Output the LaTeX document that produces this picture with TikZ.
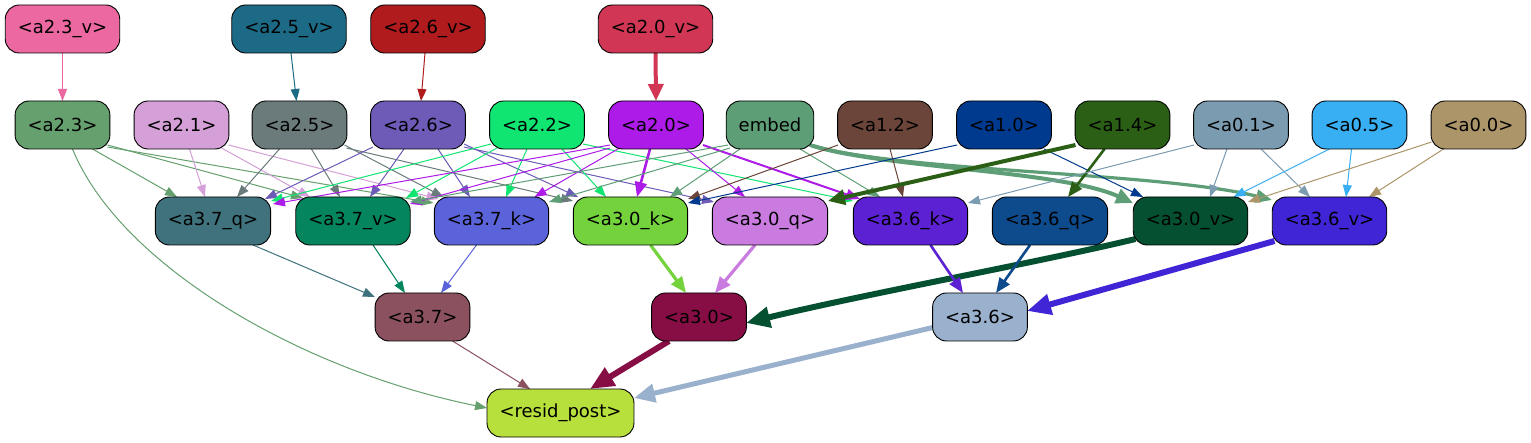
\documentclass[tikz,border=0pt]{standalone}
\usepackage{fontspec}
\setmainfont{DejaVu Sans}
\usetikzlibrary{arrows.meta}
\pgfdeclarelayer{bg}
\pgfsetlayers{bg,main}
\definecolor{c23v}{HTML}{EB68A0}
\definecolor{c25v}{HTML}{1D6A86}
\definecolor{c26v}{HTML}{B01B1D}
\definecolor{c20v}{HTML}{D13754}
\definecolor{c23}{HTML}{65A06E}
\definecolor{c21}{HTML}{D59FD8}
\definecolor{c25}{HTML}{6B7B7B}
\definecolor{c26}{HTML}{6E5BB8}
\definecolor{c22}{HTML}{0FE570}
\definecolor{c20}{HTML}{AD1BE9}
\definecolor{cemb}{HTML}{5E9E76}
\definecolor{c12}{HTML}{6B4539}
\definecolor{c10}{HTML}{003A8E}
\definecolor{c14}{HTML}{2B5F15}
\definecolor{c01}{HTML}{7B9BB1}
\definecolor{c05}{HTML}{39AFF3}
\definecolor{c00}{HTML}{AC9569}
\definecolor{cq37}{HTML}{3F727C}
\definecolor{cv37}{HTML}{05855D}
\definecolor{ck37}{HTML}{5A63D9}
\definecolor{ck30}{HTML}{74D33D}
\definecolor{cq30}{HTML}{C97BE0}
\definecolor{ck36}{HTML}{5B21D3}
\definecolor{cq36}{HTML}{0E4B8D}
\definecolor{cv30}{HTML}{045031}
\definecolor{cv36}{HTML}{3F25D6}
\definecolor{c37}{HTML}{8C515F}
\definecolor{c30}{HTML}{870E44}
\definecolor{c36}{HTML}{99B1CD}
\definecolor{cres}{HTML}{B8E03D}
\begin{document}
\begin{tikzpicture}[x=1pt,y=-1pt,
  box/.style={draw=black, line width=0.9pt, rounded corners=14pt, minimum height=48pt,
    inner xsep=12.5pt, inner ysep=0pt, font=\fontsize{18}{21}\selectfont, text=black},
  thinE/.style={line width=1pt, -{Triangle[length=12pt,width=9pt]}},
  twoE/.style={line width=2pt, -{Triangle[length=14pt,width=11pt]}},
  midE/.style={line width=2.6pt, -{Triangle[length=15pt,width=12pt]}},
  thrE/.style={line width=3.2pt, -{Triangle[length=16pt,width=13pt]}},
  thickE/.style={line width=4pt, -{Triangle[length=17pt,width=15pt]}},
  fiveE/.style={line width=5pt, -{Triangle[length=21pt,width=18pt]}},
  heavyE/.style={line width=6pt, -{Triangle[length=24pt,width=20pt]}}]
\useasboundingbox (0,0) rectangle (1531,443);
% row 0
\node[box, fill=c23v] (n23v) at (62.5,29) {<a2.3\_v>};
\node[box, fill=c25v] (n25v) at (289,29) {<a2.5\_v>};
\node[box, fill=c26v] (n26v) at (428,29) {<a2.6\_v>};
\node[box, fill=c20v] (n20v) at (655.5,29) {<a2.0\_v>};
% row 1
\node[box, fill=c23] (n23) at (62.5,125) {<a2.3>};
\node[box, fill=c21] (n21) at (181.5,125) {<a2.1>};
\node[box, fill=c25] (n25) at (299.5,125) {<a2.5>};
\node[box, fill=c26] (n26) at (418,125) {<a2.6>};
\node[box, fill=c22] (n22) at (537,125) {<a2.2>};
\node[box, fill=c20] (n20) at (656,125) {<a2.0>};
\node[box, fill=cemb] (emb) at (770,125) {embed};
\node[box, fill=c12] (n12) at (885,125) {<a1.2>};
\node[box, fill=c10] (n10) at (1004,125) {<a1.0>};
\node[box, fill=c14] (n14) at (1122.5,125) {<a1.4>};
\node[box, fill=c01] (n01) at (1241,125) {<a0.1>};
\node[box, fill=c05] (n05) at (1359.5,125) {<a0.5>};
\node[box, fill=c00] (n00) at (1478.5,125) {<a0.0>};
% row 2
\node[box, fill=cq37] (q37) at (213,221) {<a3.7\_q>};
\node[box, fill=cv37] (v37) at (353,221) {<a3.7\_v>};
\node[box, fill=ck37] (k37) at (491.5,221) {<a3.7\_k>};
\node[box, fill=ck30] (k30) at (630.5,221) {<a3.0\_k>};
\node[box, fill=cq30] (q30) at (770,221) {<a3.0\_q>};
\node[box, fill=ck36] (k36) at (910.5,221) {<a3.6\_k>};
\node[box, fill=cq36] (q36) at (1050,221) {<a3.6\_q>};
\node[box, fill=cv30] (v30) at (1190.5,221) {<a3.0\_v>};
\node[box, fill=cv36] (v36) at (1329.5,221) {<a3.6\_v>};
% row 3
\node[box, fill=c37] (n37) at (422.5,317) {<a3.7>};
\node[box, fill=c30] (n30) at (699,317) {<a3.0>};
\node[box, fill=c36] (n36) at (980,317) {<a3.6>};
% row 4
\node[box, fill=cres] (res) at (560.5,413) {<resid\_post>};

\begin{pgfonlayer}{bg}
\fill[white] (0,0) rectangle (1531,443);
% top
\draw[thinE, c23v] ([shift={(0,24)}]n23v.center) -- ([shift={(0,-24)}]n23.center);
\draw[thinE, c25v] ([shift={(2,24)}]n25v.center) -- ([shift={(-3,-24)}]n25.center);
\draw[thinE, c26v] ([shift={(-3,24)}]n26v.center) -- ([shift={(3,-24)}]n26.center);
\draw[thickE, c20v] ([shift={(0,24)}]n20v.center) -- ([shift={(0,-24)}]n20.center);
% a2.3
\draw[thinE, c23] ([shift={(30,24)}]n23.center) -- ([shift={(-36,-24)}]q37.center);
\draw[thinE, c23] ([shift={(45,20)}]n23.center) -- ([shift={(-50,-23)}]v37.center);
\draw[thinE, c23] ([shift={(45,22)}]n23.center) -- ([shift={(-58,-18)}]k37.center);
\draw[thinE, c23] ([shift={(10,24)}]n23.center) .. controls (120,265) and (300,370) .. ([shift={(-73.5,-5)}]res.center);
% a2.1
\draw[thinE, c21] ([shift={(8,24)}]n21.center) -- ([shift={(-8,-24)}]q37.center);
\draw[thinE, c21] ([shift={(40,23)}]n21.center) -- ([shift={(-43,-24)}]v37.center);
\draw[thinE, c21] ([shift={(47,20)}]n21.center) -- ([shift={(-53,-22)}]k37.center);
% a2.5
\draw[thinE, c25] ([shift={(-20,24)}]n25.center) -- ([shift={(24,-24)}]q37.center);
\draw[thinE, c25] ([shift={(12,24)}]n25.center) -- ([shift={(-13,-24)}]v37.center);
\draw[thinE, c25] ([shift={(45,20)}]n25.center) -- ([shift={(-48,-24)}]k37.center);
\draw[thinE, c25] ([shift={(47,23)}]n25.center) -- ([shift={(-57.5,-20)}]k30.center);
% a2.6
\draw[thinE, c26] ([shift={(-45,22)}]n26.center) -- ([shift={(52,-22)}]q37.center);
\draw[thinE, c26] ([shift={(-14,24)}]n26.center) -- ([shift={(17,-24)}]v37.center);
\draw[thinE, c26] ([shift={(20,24)}]n26.center) -- ([shift={(-21.5,-24)}]k37.center);
\draw[thinE, c26] ([shift={(46,19)}]n26.center) -- ([shift={(-52.5,-24)}]k30.center);
\draw[thinE, c26] ([shift={(46,22)}]n26.center) -- ([shift={(-56,-19)}]q30.center);
% a2.2
\draw[thinE, c22] ([shift={(-46,19)}]n22.center) -- ([shift={(58,-20)}]q37.center);
\draw[thinE, c22] ([shift={(-40,23)}]n22.center) -- ([shift={(53,-23)}]v37.center);
\draw[thinE, c22] ([shift={(-10,24)}]n22.center) -- ([shift={(14.5,-24)}]k37.center);
\draw[thinE, c22] ([shift={(25,24)}]n22.center) -- ([shift={(-24.5,-24)}]k30.center);
\draw[thinE, c22] ([shift={(46,19)}]n22.center) -- ([shift={(-57.5,-20)}]k36.center);
% a2.0
\draw[thinE, c20] ([shift={(-46,20)}]n20.center) -- ([shift={(60,-17)}]q37.center);
\draw[thinE, c20] ([shift={(-46,23)}]n20.center) -- ([shift={(57,-17)}]v37.center);
\draw[thinE, c20] ([shift={(-38,24)}]n20.center) -- ([shift={(43,-24)}]k37.center);
\draw[midE, c20] ([shift={(-6,24)}]n20.center) -- ([shift={(6.5,-24)}]k30.center);
\draw[thinE, c20] ([shift={(30,24)}]n20.center) -- ([shift={(-25,-24)}]q30.center);
\draw[twoE, c20] ([shift={(47,20)}]n20.center) -- ([shift={(-50.5,-22)}]k36.center);
% embed
\draw[thinE, cemb] ([shift={(-42,20)}]emb.center) -- ([shift={(57,-19)}]v37.center);
\draw[thinE, cemb] ([shift={(-40,23)}]emb.center) -- ([shift={(57.5,-19)}]k37.center);
\draw[thinE, cemb] ([shift={(-30,24)}]emb.center) -- ([shift={(39.5,-24)}]k30.center);
\draw[thinE, cemb] ([shift={(30,24)}]emb.center) -- ([shift={(-30.5,-24)}]k36.center);
\draw[thickE, cemb] ([shift={(40,20)}]emb.center) .. controls (880,168) and (1060,170) .. ([shift={(-57.5,-18)}]v30.center);
\draw[thrE, cemb] ([shift={(40,20)}]emb.center) .. controls (900,172) and (1160,172) .. ([shift={(-57.5,-21)}]v36.center);
% a1.2
\draw[thinE, c12] ([shift={(-47,20)}]n12.center) -- ([shift={(57.5,-22)}]k30.center);
\draw[thinE, c12] ([shift={(5,24)}]n12.center) -- ([shift={(-7.5,-24)}]k36.center);
% a1.0
\draw[thinE, c10] ([shift={(-47,20)}]n10.center) -- ([shift={(57.5,-18)}]k30.center);
\draw[thinE, c10] ([shift={(40,24)}]n10.center) -- ([shift={(-47.5,-24)}]v30.center);
% a1.4
\draw[thickE, c14] ([shift={(-47,20)}]n14.center) -- ([shift={(58,-20)}]q30.center);
\draw[midE, c14] ([shift={(-18,24)}]n14.center) -- ([shift={(18,-24)}]q36.center);
% a0.1
\draw[thinE, c01] ([shift={(-47,20)}]n01.center) -- ([shift={(57.5,-18)}]k36.center);
\draw[thinE, c01] ([shift={(-14,24)}]n01.center) -- ([shift={(19.5,-24)}]v30.center);
\draw[thinE, c01] ([shift={(20,24)}]n01.center) -- ([shift={(-19.5,-24)}]v36.center);
% a0.5
\draw[thinE, c05] ([shift={(-30,24)}]n05.center) -- ([shift={(43,-24)}]v30.center);
\draw[thinE, c05] ([shift={(-8,24)}]n05.center) -- ([shift={(16.5,-24)}]v36.center);
% a0.0
\draw[thinE, c00] ([shift={(-47,17)}]n00.center) -- ([shift={(57.5,-19)}]v30.center);
\draw[thinE, c00] ([shift={(-35,24)}]n00.center) -- ([shift={(39.5,-24)}]v36.center);
% row 2 -> row 3
\draw[thinE, cq37] ([shift={(40,24)}]q37.center) -- ([shift={(-47.5,-20)}]n37.center);
\draw[thinE, cv37] ([shift={(20,24)}]v37.center) -- ([shift={(-17.5,-24)}]n37.center);
\draw[thinE, ck37] ([shift={(-15,24)}]k37.center) -- ([shift={(18.5,-24)}]n37.center);
\draw[thrE, ck30] ([shift={(20,24)}]k30.center) -- ([shift={(-13,-24)}]n30.center);
\draw[thrE, cq30] ([shift={(-15,24)}]q30.center) -- ([shift={(16,-24)}]n30.center);
\draw[heavyE, cv30] ([shift={(-55,18)}]v30.center) .. controls (1040,262) and (860,295) .. ([shift={(47,6)}]n30.center);
\draw[midE, ck36] ([shift={(20,24)}]k36.center) -- ([shift={(-17,-24)}]n36.center);
\draw[midE, cq36] ([shift={(-20,24)}]q36.center) -- ([shift={(16,-24)}]n36.center);
\draw[heavyE, cv36] ([shift={(-55,20)}]v36.center) -- ([shift={(47,-6)}]n36.center);
% row 3 -> resid
\draw[thinE, c37] ([shift={(30,24)}]n37.center) -- ([shift={(-30.5,-24)}]res.center);
\draw[heavyE, c30] ([shift={(-30,24)}]n30.center) -- ([shift={(29.5,-24)}]res.center);
\draw[fiveE, c36] ([shift={(-45,10)}]n36.center) -- ([shift={(73.5,-15)}]res.center);
\end{pgfonlayer}
\end{tikzpicture}
\end{document}
